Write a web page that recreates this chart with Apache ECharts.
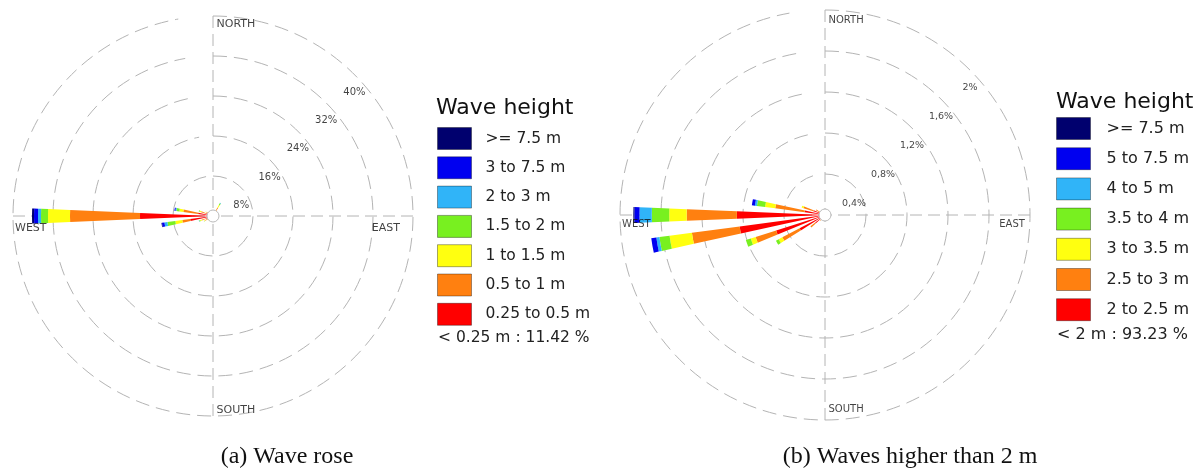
<!DOCTYPE html>
<html><head><meta charset="utf-8">
<script src="https://cdn.jsdelivr.net/npm/echarts@6/dist/echarts.min.js"></script>
<style>html,body{margin:0;padding:0;background:#fff}#c{width:1204px;height:471px}</style>
</head><body><div id="c"></div>
<script>
// ---------- DATA ----------
const directions = ['0','10','20','30','40','50','60','70','80','90','100','110','120','130','140','150','160','170',
  '180','190','200','210','220','230','240','250','260','270','280','290','300','310','320','330','340','350'];

// (a) Wave rose — frequency (%) per direction, per height class (inner -> outer)
const classNamesA = ['0.25 to 0.5 m','0.5 to 1 m','1 to 1.5 m','1.5 to 2 m','2 to 3 m','3 to 7.5 m','>= 7.5 m'];
const aRed    = [0.4,0.5,0.6,1.0,0.3,0.2,0.2,0.2,0.2,0.2, 0.2,0.2,0.2,0.2,0.2,0.2,0.3,0.3,0.3,0.3, 0.4,0.4,0.6,0.8,1.2,1.6,4.6,14.6,3.0,1.5, 1.0,0.6,0.4,0.3,0.3,0.3];
const aOrange = [0.2,0.4,0.3,0.9,0.2,0.1,0.1,0,0,0, 0,0,0,0,0,0,0.1,0.1,0.1,0.1, 0.2,0.2,0.3,0.4,0.6,0.8,1.6,14.0,3.0,1.0, 0.5,0.3,0.2,0.1,0.1,0.2];
const aYellow = [0,0.1,0.1,0.6,0,0,0,0,0,0, 0,0,0,0,0,0,0,0,0,0, 0,0,0,0.1,0.2,0.3,1.4,4.4,0.8,0.3, 0.2,0.1,0,0,0,0];
const aGreen  = [0,0,0,0.4,0,0,0,0,0,0, 0,0,0,0,0,0,0,0,0,0, 0,0,0,0,0.1,0.2,1.6,1.4,0.6,0.2, 0,0,0,0,0,0];
const aSky    = [0,0,0,0.1,0,0,0,0,0,0, 0,0,0,0,0,0,0,0,0,0, 0,0,0,0,0,0.1,0.6,0.6,0.2,0, 0,0,0,0,0,0];
const aBlue   = [0,0,0,0,0,0,0,0,0,0, 0,0,0,0,0,0,0,0,0,0, 0,0,0,0,0,0,0.5,0.8,0.2,0, 0,0,0,0,0,0];
const aNavy   = [0,0,0,0,0,0,0,0,0,0, 0,0,0,0,0,0,0,0,0,0, 0,0,0,0,0,0,0.1,0.4,0,0, 0,0,0,0,0,0];
const ringValuesA = [8,16,24,32,40];
const ringLabelsA = ['8%','16%','24%','32%','40%'];
const calmA = '< 0.25 m : 11.42 %';

// (b) Waves higher than 2 m
const classNamesB = ['2 to 2.5 m','2.5 to 3 m','3 to 3.5 m','3.5 to 4 m','4 to 5 m','5 to 7.5 m','>= 7.5 m'];
const bRed    = [0,0,0,0,0,0,0,0,0,0, 0,0,0,0,0,0,0,0,0,0, 0,0,0.05,0.12,0.28,0.50,0.84,0.86,0.20,0.12, 0.06,0.03,0,0,0,0];
const bOrange = [0,0,0,0,0,0,0,0,0,0, 0,0,0,0,0,0,0,0,0,0, 0,0,0.02,0.06,0.19,0.21,0.47,0.49,0.29,0.10, 0.04,0.01,0,0,0,0];
const bYellow = [0,0,0,0,0,0,0,0,0,0, 0,0,0,0,0,0,0,0,0,0, 0,0,0,0,0.04,0.05,0.22,0.17,0.10,0.02, 0,0,0,0,0,0];
const bGreen  = [0,0,0,0,0,0,0,0,0,0, 0,0,0,0,0,0,0,0,0,0, 0,0,0,0,0.03,0.05,0.10,0.17,0.08,0, 0,0,0,0,0,0];
const bSky    = [0,0,0,0,0,0,0,0,0,0, 0,0,0,0,0,0,0,0,0,0, 0,0,0,0,0,0,0.03,0.12,0.02,0, 0,0,0,0,0,0];
const bBlue   = [0,0,0,0,0,0,0,0,0,0, 0,0,0,0,0,0,0,0,0,0, 0,0,0,0,0,0,0.05,0.05,0.03,0, 0,0,0,0,0,0];
const bNavy   = [0,0,0,0,0,0,0,0,0,0, 0,0,0,0,0,0,0,0,0,0, 0,0,0,0,0,0,0,0.01,0,0, 0,0,0,0,0,0];
const ringValuesB = [0.4,0.8,1.2,1.6,2];
const ringLabelsB = ['0,4%','0,8%','1,2%','1,6%','2%'];
const calmB = '< 2 m : 93.23 %';

const dirNames = ['NORTH','EAST','SOUTH','WEST'];
const dirAngles = [0,90,180,270];
const titleText = 'Wave height';
const captionA = '(a) Wave rose';
const captionB = '(b) Waves higher than 2 m';

// ---------- STYLE / LAYOUT ----------
const colors = ['#ff0000','#ff8010','#ffff10','#78f020','#30b4f8','#0000f0','#00006e'];
const FONT = '"DejaVu Sans", sans-serif';
const A = {center:[213,216], radius:200, max:40};
const B = {center:[825,215], radius:205, max:2};
const gridColor = '#b4b4b4';

const chart = echarts.init(document.getElementById('c'), null, {renderer:'canvas'});

function barAngleAxis(pi){
  return {polarIndex:pi, type:'category', data:directions, boundaryGap:false, startAngle:90, clockwise:true,
    axisLine:{show:false}, axisLabel:{show:false}, axisTick:{show:false, interval:8},
    splitLine:{show:true, interval:8, lineStyle:{color:gridColor, width:1, type:[12,6]}}};
}
function barRadiusAxis(pi, max, interval){
  return {polarIndex:pi, type:'value', min:0, max:max, interval:interval,
    axisLine:{show:false}, axisLabel:{show:false}, axisTick:{show:false},
    splitLine:{show:true, lineStyle:{color:gridColor, width:1, type:[14,7]}}};
}
function hiddenAngle(pi){
  return {polarIndex:pi, type:'value', min:0, max:360, startAngle:90, clockwise:true,
    axisLine:{show:false}, axisLabel:{show:false}, axisTick:{show:false}, splitLine:{show:false}};
}
function hiddenRadius(pi, max){
  return {polarIndex:pi, type:'value', min:0, max:max,
    axisLine:{show:false}, axisLabel:{show:false}, axisTick:{show:false}, splitLine:{show:false}};
}

function stackSeries(pi, stackId, names, arrays){
  return arrays.map((arr, k) => ({
    type:'bar', coordinateSystem:'polar', polarIndex:pi, stack:stackId, name:names[k],
    data:arr, barWidth:'48%', itemStyle:{color:colors[k]}, silent:true, z:3
  }));
}

function ringLabelSeries(pi, values, labels, fontSize){
  return {
    type:'scatter', coordinateSystem:'polar', polarIndex:pi, symbolSize:1, silent:true, z:6,
    itemStyle:{color:'rgba(0,0,0,0)'},
    data: values.map(v => [v, 45]),
    label:{show:true, position:'bottom', distance:12, fontFamily:FONT, fontSize:fontSize, color:'#111',
      formatter: p => labels[p.dataIndex]}
  };
}

function dirLabelSeries(pi, max, fracs, fontSize, sideDist){
  const pos = [
    {position:'right', distance:3},
    {position:'bottom', align:'right', distance:sideDist},
    {position:'right', distance:3},
    {position:'bottom', align:'left', distance:sideDist}
  ];
  return {
    type:'scatter', coordinateSystem:'polar', polarIndex:pi, symbolSize:1, silent:true, z:6,
    itemStyle:{color:'rgba(0,0,0,0)'},
    data: dirNames.map((n, i) => ({value:[max*fracs[i], dirAngles[i]], name:n,
      label:Object.assign({show:true, fontFamily:FONT, fontSize:fontSize, color:'#111', formatter:n}, pos[i])}))
  };
}

const legendA = classNamesA.slice().reverse();
const legendB = classNamesB.slice().reverse();

const option = {
  backgroundColor:'#fff',
  animation:false,
  polar:[
    {center:A.center, radius:A.radius},
    {center:B.center, radius:B.radius},
    {center:A.center, radius:A.radius},
    {center:B.center, radius:B.radius}
  ],
  angleAxis:[barAngleAxis(0), barAngleAxis(1), hiddenAngle(2), hiddenAngle(3)],
  radiusAxis:[barRadiusAxis(0, A.max, 8), barRadiusAxis(1, B.max, 0.4), hiddenRadius(2, A.max), hiddenRadius(3, B.max)],
  legend:[
    {data:legendA, orient:'vertical', left:437, top:127, padding:0, itemWidth:34, itemHeight:22, itemGap:6.3,
      icon:'rect', selectedMode:false, itemStyle:{borderColor:'rgba(0,0,0,0.35)', borderWidth:1},
      textStyle:{fontFamily:FONT, fontSize:15.5, color:'#222', padding:[0,0,0,9]}},
    {data:legendB, orient:'vertical', left:1056, top:117, padding:0, itemWidth:34, itemHeight:22, itemGap:7.2,
      icon:'rect', selectedMode:false, itemStyle:{borderColor:'rgba(0,0,0,0.35)', borderWidth:1},
      textStyle:{fontFamily:FONT, fontSize:16, color:'#222', padding:[0,0,0,11]}}
  ],
  series:[
    ...stackSeries(0, 'a', classNamesA, [aRed,aOrange,aYellow,aGreen,aSky,aBlue,aNavy]),
    ...stackSeries(1, 'b', classNamesB, [bRed,bOrange,bYellow,bGreen,bSky,bBlue,bNavy]),
    ringLabelSeries(2, ringValuesA, ringLabelsA, 10),
    ringLabelSeries(3, ringValuesB, ringLabelsB, 9.5),
    dirLabelSeries(2, A.max, [0.96, 0.935, 0.97, 0.99], 11, 6),
    dirLabelSeries(3, B.max, [0.95, 0.975, 0.95, 0.99], 10, 4)
  ],
  graphic:[
    {type:'circle', shape:{cx:A.center[0], cy:A.center[1], r:6}, style:{fill:'#fff', stroke:'#bbb', lineWidth:1}, z:100},
    {type:'circle', shape:{cx:B.center[0], cy:B.center[1], r:6}, style:{fill:'#fff', stroke:'#bbb', lineWidth:1}, z:100},
    {type:'text', left:436, top:97, style:{text:titleText, font:'22px "DejaVu Sans"', fill:'#111'}, z:100},
    {type:'text', left:1056, top:91, style:{text:titleText, font:'22px "DejaVu Sans"', fill:'#111'}, z:100},
    {type:'text', left:438, top:330, style:{text:calmA, font:'15.5px "DejaVu Sans"', fill:'#222'}, z:100},
    {type:'text', left:1057, top:327, style:{text:calmB, font:'16px "DejaVu Sans"', fill:'#222'}, z:100},
    {type:'text', x:287, y:457, style:{text:captionA, font:'24px "Liberation Serif"', fill:'#111', align:'center', verticalAlign:'middle'}, z:100},
    {type:'text', x:910, y:457, style:{text:captionB, font:'24px "Liberation Serif"', fill:'#111', align:'center', verticalAlign:'middle'}, z:100}
  ]
};
chart.setOption(option);
</script>
</body></html>
